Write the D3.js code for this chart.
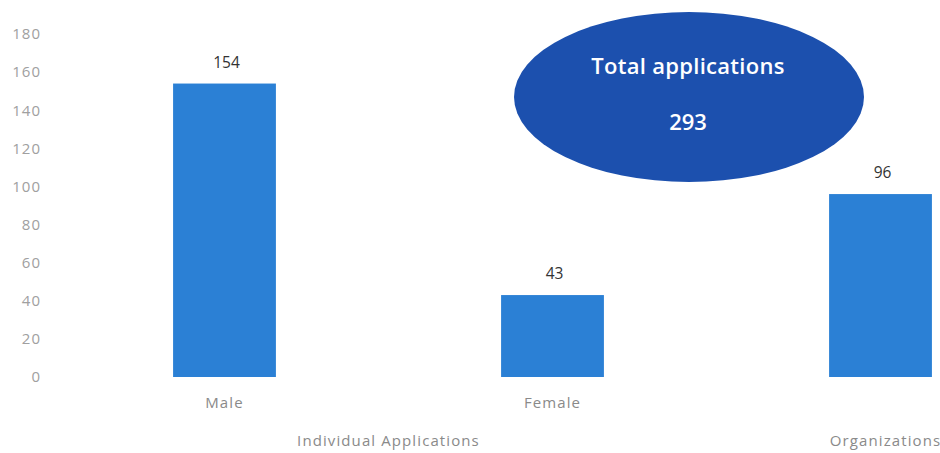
<!DOCTYPE html>
<html><head><meta charset="utf-8">
<script src="https://cdn.jsdelivr.net/npm/d3@7"></script>
<style>
html,body{margin:0;padding:0;background:#fff;}
svg{display:block;font-family:"Open Sans",sans-serif;}
</style></head>
<body>
<svg id="chart" width="940" height="453"></svg>
<script>
const categories = ["Male", "Female", "Organizations"];
const categoryLabels = ["Male", "Female", ""];
const values = [154, 43, 96];
const yTicks = [0, 20, 40, 60, 80, 100, 120, 140, 160, 180];
const groupNames = ["Individual Applications", "Organizations"];
const groupMembers = [["Male", "Female"], ["Organizations"]];
const totalLabel = "Total applications";
const totalValue = 293;

const svg = d3.select("#chart");
const y = d3.scaleLinear().domain([0, 180]).range([377, 34]);
const x = d3.scaleBand().domain(categories).range([55, 1050]).paddingInner(0.6865).paddingOuter(0.36);

// y axis (labels only)
const yAxis = d3.axisLeft(y).tickValues(yTicks).tickSize(0).tickPadding(0);
const gy = svg.append("g").attr("transform", "translate(41,0)").call(yAxis);
gy.select(".domain").remove();
gy.selectAll("text").attr("fill", "#a0a0a0").style("font-size", "15px")
  .style("letter-spacing", "1px").style("font-family", "'Open Sans',sans-serif");

// bars
svg.append("g").selectAll("rect").data(categories).join("rect")
  .attr("x", d => x(d)).attr("width", x.bandwidth())
  .attr("y", (d, i) => y(values[i])).attr("height", (d, i) => y(0) - y(values[i]))
  .attr("fill", "#2b80d5");

// value labels
svg.append("g").selectAll("text").data(categories).join("text")
  .attr("x", d => x(d) + x.bandwidth() / 2 + 2)
  .attr("y", (d, i) => y(values[i]) - 16)
  .attr("text-anchor", "middle").attr("fill", "#333")
  .style("font-size", "15.5px")
  .text((d, i) => values[i]);

// category labels
const xAxis = d3.axisBottom(x).tickSize(0).tickPadding(0)
  .tickFormat(d => categoryLabels[categories.indexOf(d)]);
const gx = svg.append("g").attr("transform", "translate(0,397)").call(xAxis);
gx.select(".domain").remove();
gx.selectAll("text").attr("fill", "#8a8a8a").style("font-size", "15px")
  .style("letter-spacing", "1.1px").style("font-family", "'Open Sans',sans-serif");

// group labels
svg.append("g").selectAll("text").data(groupNames).join("text")
  .attr("x", (d, i) => {
    const m = groupMembers[i];
    const c = d3.mean(m, k => x(k) + x.bandwidth() / 2);
    return i === 1 ? c + 5 : c;
  })
  .attr("y", 446).attr("text-anchor", "middle").attr("fill", "#8a8a8a")
  .style("font-size", "15px").style("letter-spacing", "1.1px")
  .text(d => d);

// total ellipse
const eg = svg.append("g");
eg.append("ellipse").attr("cx", 689).attr("cy", 97).attr("rx", 175).attr("ry", 85)
  .attr("fill", "#1c50ae");
eg.append("text").attr("x", 688).attr("y", 74).attr("text-anchor", "middle")
  .attr("fill", "#fff").style("font-size", "22px").style("font-weight", "600").style("letter-spacing", "0.3px")
  .text(totalLabel);
eg.append("text").attr("x", 688).attr("y", 130).attr("text-anchor", "middle")
  .attr("fill", "#fff").style("font-size", "22px").style("font-weight", "600")
  .text(totalValue);
</script>
</body></html>
